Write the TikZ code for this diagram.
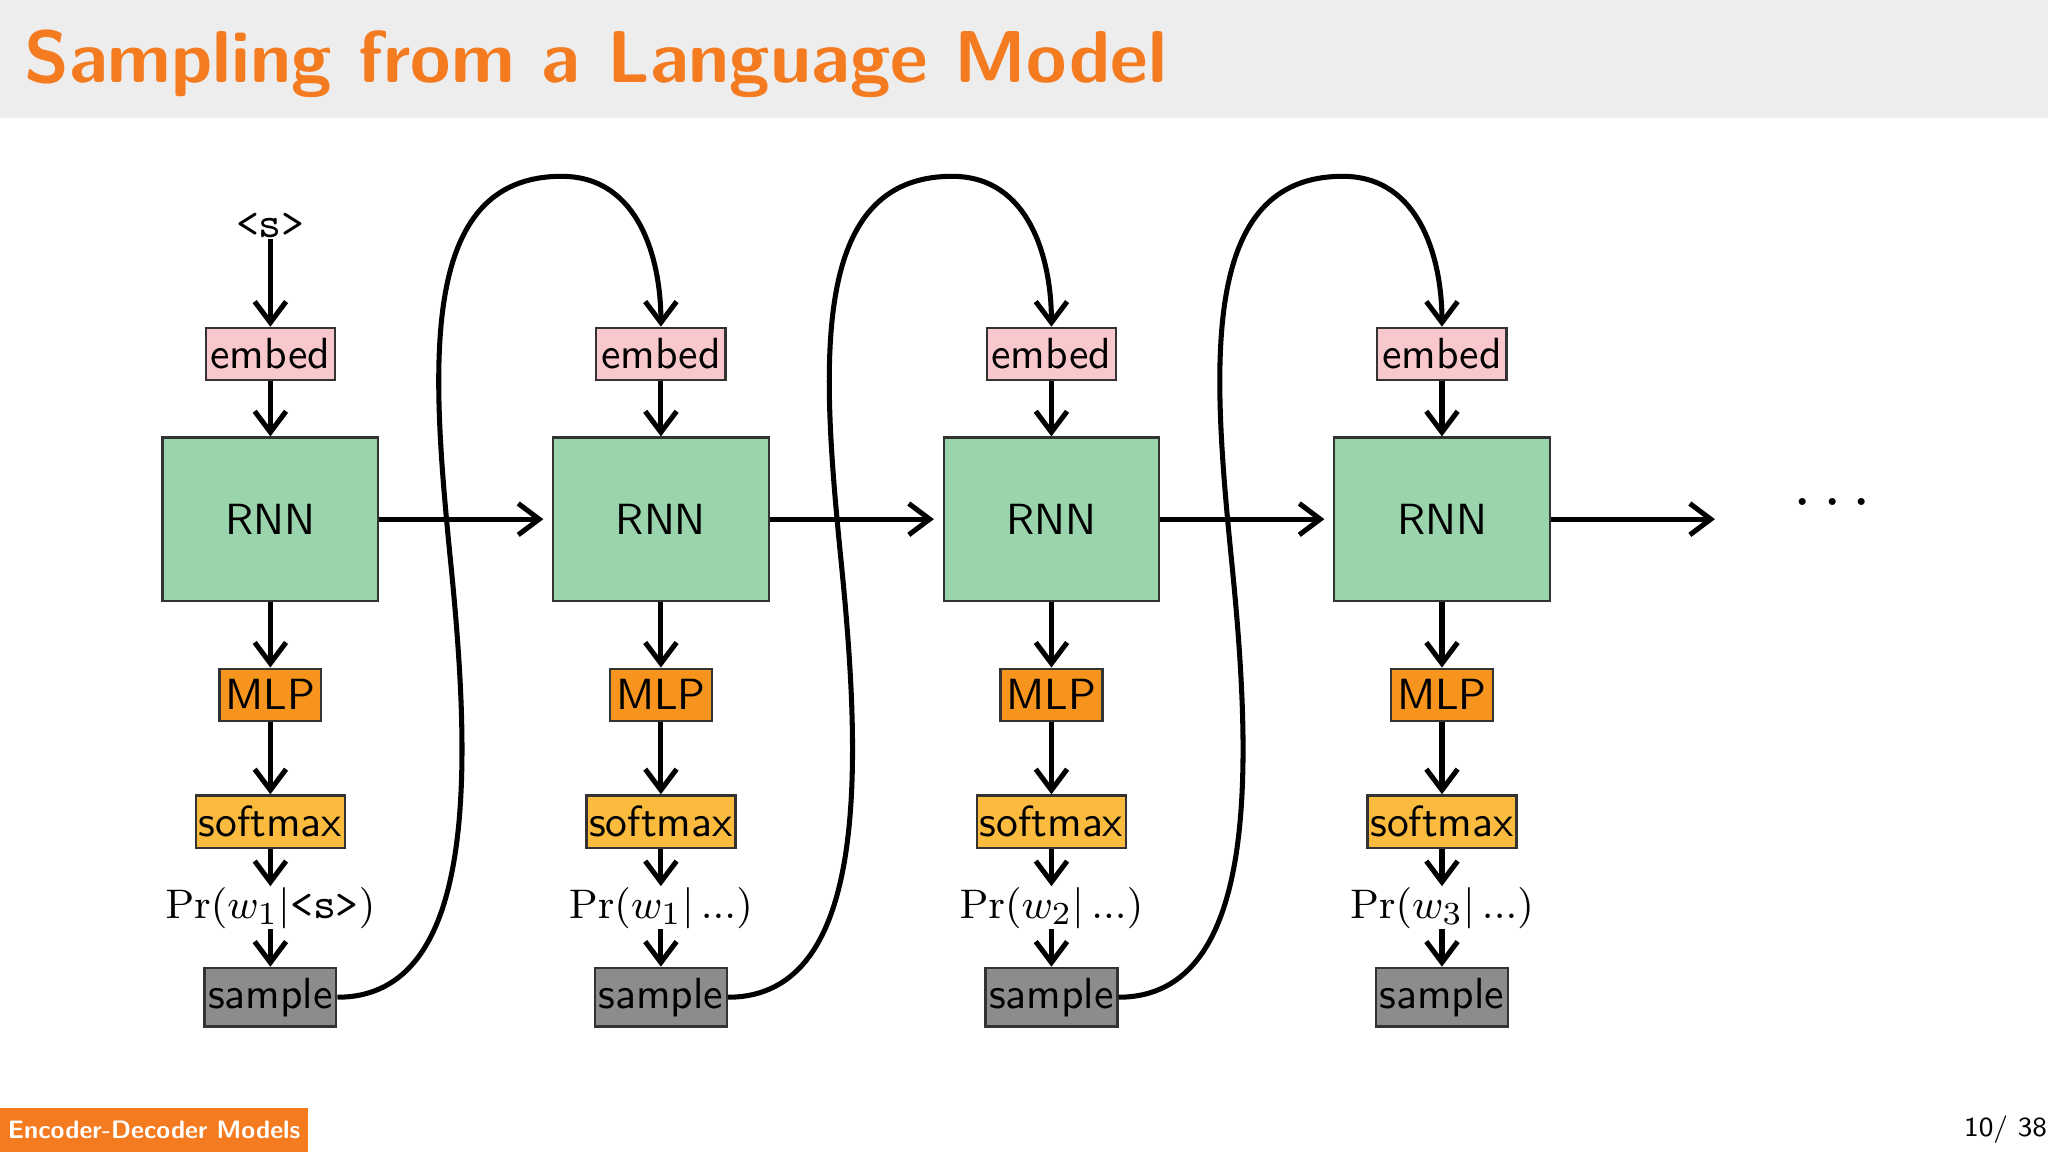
\documentclass[tikz,border=0pt]{standalone}
\usetikzlibrary{arrows.meta}
\definecolor{ttl}{HTML}{F47B20}
\definecolor{emb}{HTML}{F8C8CC}
\definecolor{rnn}{HTML}{9AD4AC}
\definecolor{mlp}{HTML}{F7941D}
\definecolor{smx}{HTML}{FBBB3F}
\definecolor{smp}{HTML}{8C8C8C}
\begin{document}
\begin{tikzpicture}[x=1mm,y=-1mm,font=\sffamily\fontsize{9.5}{11}\selectfont,
  box/.style={draw=black!80,line width=0.5pt,inner sep=0pt},
  embed/.style={box,fill=emb,minimum width=9.9mm,minimum height=4mm},
  rnnb/.style={box,fill=rnn,minimum width=16.5mm,minimum height=12.5mm},
  mlpb/.style={box,fill=mlp,minimum width=7.8mm,minimum height=4mm},
  smb/.style={box,fill=smx,minimum width=11.4mm,minimum height=4mm},
  sab/.style={box,fill=smp,minimum width=10.1mm,minimum height=4.5mm},
  arr/.style={line width=1.1pt,-{Straight Barb[length=1.6mm,width=2.4mm]}},
  lbl/.style={inner sep=0pt}]
\useasboundingbox (0,0) rectangle (156.8,88.2);
\fill[black!7] (0,0) rectangle (156.8,9);
\node[anchor=base west,inner sep=0pt,text=ttl,font=\sffamily\bfseries\fontsize{16}{18}\selectfont] (title) at (1.8,6.3) {Sampling from a Language Model};
\fill[ttl] (0,84.8) rectangle (23.6,88.2);
\node[text=white,font=\sffamily\bfseries\fontsize{5.5}{6}\selectfont,inner sep=0pt] (foot) at (11.8,86.5) {Encoder-Decoder Models};
\node[anchor=east,font=\sffamily\fontsize{6}{7}\selectfont,inner sep=0pt] (pg) at (156.8,86.5) {10/ 38};
\node[lbl] (s) at (20.7,17.3) {\texttt{<s>}};
\foreach \i/\x/\p in {1/20.7/{$\Pr(w_1|\texttt{<s>})$},2/50.6/{$\Pr(w_1|\,...)$},3/80.5/{$\Pr(w_2|\,...)$},4/110.4/{$\Pr(w_3|\,...)$}}{
  \node[embed] (e\i) at (\x,27.1) {embed};
  \node[rnnb] (r\i) at (\x,39.75) {RNN};
  \node[mlpb] (m\i) at (\x,53.2) {MLP};
  \node[smb] (x\i) at (\x,62.9) {softmax};
  \node[lbl] (p\i) at (\x,69.5) {\p};
  \node[sab] (a\i) at (\x,76.35) {sample};
  \draw[arr] (e\i) -- (r\i);
  \draw[arr] (r\i) -- (m\i);
  \draw[arr] (m\i) -- (x\i);
  \draw[arr] (x\i) -- (p\i);
  \draw[arr] (p\i) -- (a\i);
}
\draw[arr] (s) -- (e1);
\draw[arr] (r1.east) -- (41.6,39.75);
\draw[arr] (r2.east) -- (71.5,39.75);
\draw[arr] (r3.east) -- (101.4,39.75);
\coordinate (end) at (131.3,39.75);
\draw[arr] (r4.east) -- (end);
\node[lbl,font=\sffamily\fontsize{14}{14}\selectfont] (dots) at (140.3,38.6) {$\cdots$};
\foreach \a/\b/\o in {1/2/0,2/3/29.9,3/4/59.8}{
  \draw[arr] (a\a.east) .. controls +(11,0) and (36+\o,58) .. (34.5+\o,43)
     .. controls (33+\o,28) and (32+\o,13.5) .. (43+\o,13.5)
     .. controls (49+\o,13.5) and (50.6+\o,20) .. (e\b.north);
}
\end{tikzpicture}
\end{document}
